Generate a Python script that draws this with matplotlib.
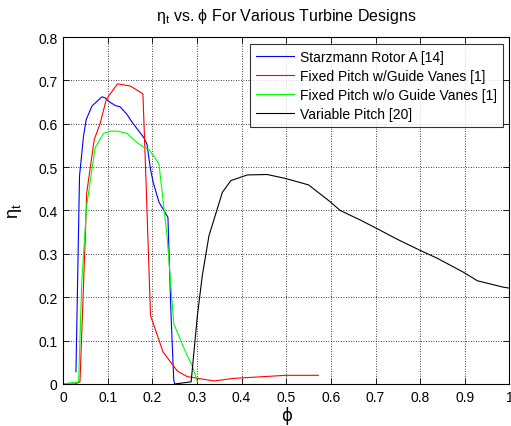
import matplotlib
matplotlib.use("Agg")
import matplotlib.pyplot as plt

plt.rcParams['font.family'] = ['Liberation Sans', 'DejaVu Sans']
plt.rcParams['mathtext.fontset'] = 'custom'
plt.rcParams['mathtext.rm'] = 'Liberation Sans'
plt.rcParams['mathtext.it'] = 'Liberation Sans:italic'

starz_x = [0.029, 0.037, 0.046, 0.052, 0.065, 0.087, 0.094, 0.102, 0.117, 0.128, 0.143,
           0.155, 0.170, 0.181, 0.188, 0.196, 0.202, 0.215, 0.226, 0.235, 0.242, 0.248, 0.250]
starz_y = [0.028, 0.480, 0.572, 0.610, 0.641, 0.662, 0.660, 0.652, 0.642, 0.639, 0.622,
           0.603, 0.583, 0.568, 0.553, 0.495, 0.465, 0.419, 0.400, 0.384, 0.158, 0.010, 0.0]

gv_x = [0.0, 0.027, 0.038, 0.050, 0.053, 0.070, 0.083, 0.097, 0.122, 0.151, 0.179, 0.185,
        0.196, 0.224, 0.256, 0.278, 0.338, 0.383, 0.450, 0.500, 0.572]
gv_y = [0.0, 0.0, 0.005, 0.342, 0.440, 0.564, 0.600, 0.656, 0.692, 0.687, 0.669, 0.495,
        0.158, 0.074, 0.030, 0.017, 0.007, 0.013, 0.017, 0.020, 0.020]

nogv_x = [0.0, 0.035, 0.042, 0.053, 0.072, 0.091, 0.106, 0.121, 0.143, 0.162, 0.179, 0.192,
          0.203, 0.215, 0.233, 0.248, 0.271, 0.290, 0.301]
nogv_y = [0.0, 0.005, 0.235, 0.411, 0.545, 0.578, 0.583, 0.583, 0.578, 0.560, 0.547, 0.541,
          0.526, 0.507, 0.342, 0.139, 0.082, 0.040, 0.005]

var_x = [0.250, 0.287, 0.301, 0.312, 0.327, 0.357, 0.376, 0.413, 0.457, 0.498, 0.550, 0.595,
         0.621, 0.666, 0.700, 0.748, 0.800, 0.838, 0.898, 0.928, 0.987, 1.000]
var_y = [0.0, 0.005, 0.158, 0.250, 0.342, 0.442, 0.469, 0.482, 0.483, 0.474, 0.459, 0.423,
         0.400, 0.378, 0.360, 0.334, 0.308, 0.290, 0.257, 0.238, 0.223, 0.221]

labels = ["Starzmann Rotor A [14]", "Fixed Pitch w/Guide Vanes [1]",
          "Fixed Pitch w/o Guide Vanes [1]", "Variable Pitch [20]"]

fig = plt.figure(figsize=(5.11, 4.27), dpi=100)
ax = fig.add_axes([0.1233, 0.0984, 0.8737, 0.8126])

ax.plot(starz_x, starz_y, color='#0000ff', lw=0.8, label=labels[0])
ax.plot(gv_x, gv_y, color='#ff0000', lw=0.8, label=labels[1])
ax.plot(nogv_x, nogv_y, color='#00ff00', lw=0.8, label=labels[2])
ax.plot(var_x, var_y, color='black', lw=0.8, label=labels[3])

ax.set_xlim(0, 1)
ax.set_ylim(0, 0.8)
ax.set_xticks([i / 10 for i in range(11)])
ax.set_yticks([i / 10 for i in range(9)])
ax.set_xticklabels(['0', '0.1', '0.2', '0.3', '0.4', '0.5', '0.6', '0.7', '0.8', '0.9', '1'])
ax.set_yticklabels(['0', '0.1', '0.2', '0.3', '0.4', '0.5', '0.6', '0.7', '0.8'])
ax.tick_params(direction='in', top=True, right=True, labelsize=10, length=4, width=0.6, pad=4)
ax.grid(True, color='black', linestyle=(0, (1, 2)), linewidth=0.6)
for s in ax.spines.values():
    s.set_linewidth(0.8)

ax.set_xlabel('ϕ', fontsize=12, labelpad=2, family=['DejaVu Sans'])
ax.set_ylabel(r'$\mathrm{η}_\mathrm{t}$', fontsize=13, labelpad=10)
ax.set_title(r'$\mathrm{η}_\mathrm{t}$ vs. ϕ For Various Turbine Designs', fontsize=11.5, pad=12)

leg = ax.legend(loc='upper right', fontsize=10, frameon=True, fancybox=False,
                edgecolor='black', borderpad=0.4, labelspacing=0.38, handlelength=2.75,
                handletextpad=0.45, borderaxespad=0.5)
leg.get_frame().set_linewidth(0.8)

fig.savefig('out.png', dpi=100)
